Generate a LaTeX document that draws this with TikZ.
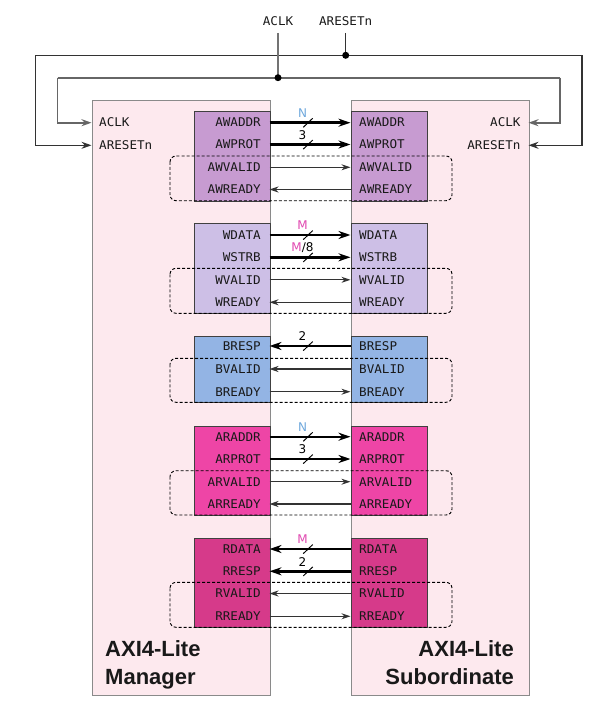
\documentclass[tikz,border=0pt]{standalone}
\usepackage{fontspec}
\setmainfont{Liberation Sans}
\newfontfamily\sigfont[FakeStretch=1.05]{DejaVu Sans Mono}
\newfontfamily\lblfont{DejaVu Sans}
\usetikzlibrary{arrows.meta,calc}
\definecolor{modfill}{HTML}{FDE9EE}
\definecolor{modline}{HTML}{8A8A8A}
\definecolor{awcol}{HTML}{C79BD1}
\definecolor{wcol}{HTML}{CDBFE6}
\definecolor{bcol}{HTML}{93B4E4}
\definecolor{arcol}{HTML}{EE45A6}
\definecolor{rcol}{HTML}{D63A8A}
\definecolor{nblue}{HTML}{6FA8DC}
\definecolor{mmag}{HTML}{E048B0}
\begin{document}
\begin{tikzpicture}[x=1pt,y=-1pt,
  module/.style={draw=modline,line width=1pt,fill=modfill,inner sep=0pt,anchor=north west},
  chan/.style={draw=black!75,line width=1pt,inner sep=0pt,anchor=north west,minimum width=76pt},
  sig/.style={font=\sigfont\fontsize{12}{14}\selectfont,text=black!90,inner sep=0pt},
  lbl/.style={font=\lblfont\fontsize{12}{14}\selectfont,inner sep=0pt},
  title/.style={font=\fontsize{22}{26}\selectfont\bfseries,text=black!90,inner sep=0pt},
  bus/.style={line width=2.4pt,black,>={Stealth[length=12pt,width=8pt]}},
  ctl/.style={line width=1.2pt,black!80,>={Stealth[length=9pt,width=6pt]}},
  fwd/.style={->},
  back/.style={<-},
  grp/.style={draw=black,line width=0.9pt,dash pattern=on 3pt off 2pt,rounded corners=6pt},
  slash/.style={line width=1pt,black},
  wclk/.style={draw=black!60,line width=1.8pt},
  wrst/.style={draw=black!80,line width=1.2pt},
  wtip/.style={-{Stealth[length=10pt,width=7pt]}}
]
\useasboundingbox (0,0) rectangle (602,714);

% modules
\node[module,minimum width=178pt,minimum height=594.5pt] (mgr) at (91.5,100) {};
\node[module,minimum width=178pt,minimum height=594.5pt] (sub) at (350.5,100) {};

% channel boxes
\foreach \g/\top/\h/\col in {aw/111/89.7/awcol, w/223.3/90/wcol, b/335.7/66.6/bcol, ar/425.7/89.3/arcol, r/537.7/89.6/rcol}{
  \node[chan,fill=\col,minimum height=\h pt] (\g m) at (193.5,\top) {};
  \node[chan,fill=\col,minimum height=\h pt] (\g s) at (350.5,\top) {};
}

% signals and arrows
\foreach \n/\y/\d/\t in {
  AWADDR/122.7/fwd/bus, AWPROT/144.5/fwd/bus, AWVALID/167.3/fwd/ctl, AWREADY/189.5/back/ctl,
  WDATA/235/fwd/bus, WSTRB/257.3/fwd/bus, WVALID/279.8/fwd/ctl, WREADY/302.3/back/ctl,
  BRESP/346/back/bus, BVALID/369/back/ctl, BREADY/391.7/fwd/ctl,
  ARADDR/436.7/fwd/bus, ARPROT/459/fwd/bus, ARVALID/481.7/fwd/ctl, ARREADY/504/back/ctl,
  RDATA/549/back/bus, RRESP/571.3/back/bus, RVALID/593.5/back/ctl, RREADY/616.3/fwd/ctl}{
  \node[sig,anchor=base east] (m\n) at (261,\y+4.3) {\n};
  \node[sig,anchor=base west] (s\n) at (359,\y+4.3) {\n};
  \coordinate (pm\n) at (269.5,\y);
  \coordinate (ps\n) at (350.5,\y);
  \draw[\t,\d] (pm\n) -- (ps\n);
}

% width marks
\foreach \n/\lab in {AWADDR/{\textcolor{nblue}{N}}, AWPROT/3, WDATA/{\textcolor{mmag}{M}}, WSTRB/{\textcolor{mmag}{M}/8},
  BRESP/2, ARADDR/{\textcolor{nblue}{N}}, ARPROT/3, RDATA/{\textcolor{mmag}{M}}, RRESP/2}{
  \draw[slash] ($(pm\n)+(33.8,4.6)$) -- ($(pm\n)+(43.2,-4.4)$);
  \node[lbl] (w\n) at ($(pm\n)+(33,-9.6)$) {\lab};
}

% handshake groups
\foreach \g/\top/\bot in {gaw/156/200.7, gw/268.3/313.3, gb/358.3/402.3, gar/470.7/515, gr/582.3/627.3}{
  \draw[grp] (170,\top) rectangle (452,\bot);
}

% module side labels
\node[sig,anchor=base west] (mclk) at (99,127) {ACLK};
\node[sig,anchor=base west] (mrst) at (99,149.6) {ARESETn};
\node[sig,anchor=base east] (sclk) at (520.7,127) {ACLK};
\node[sig,anchor=base east] (srst) at (520.7,149.6) {ARESETn};

% titles
\node[title,anchor=base west] (tm1) at (105,656.7) {AXI4-Lite};
\node[title,anchor=base west] (tm2) at (105,684) {Manager};
\node[title,anchor=base east] (ts1) at (514,656.7) {AXI4-Lite};
\node[title,anchor=base east] (ts2) at (514,684) {Subordinate};

% global signals
\node[sig,anchor=base] (gclk) at (278,26) {ACLK};
\node[sig,anchor=base] (grst) at (345.7,26) {ARESETn};
\coordinate (clkTop) at (278,33);
\coordinate (clkJ) at (278,77.7);
\coordinate (clkL) at (57.5,77.7);
\coordinate (clkR) at (560.3,77.7);
\coordinate (clkMin) at (91.5,122.7);
\coordinate (clkSin) at (528.5,122.7);
\coordinate (rstTop) at (345.7,33);
\coordinate (rstJ) at (345.7,55.3);
\coordinate (rstL) at (35.5,55.3);
\coordinate (rstR) at (582,55.3);
\coordinate (rstMin) at (91.5,145.3);
\coordinate (rstSin) at (528.5,145.3);

\draw[wrst] (rstL) -- (rstR);
\draw[wrst] (rstTop) -- (rstJ);
\draw[wrst,wtip] (rstL) |- (rstMin);
\draw[wrst,wtip] (rstR) |- (rstSin);
\draw[wclk] (clkL) -- (clkR);
\draw[draw=black!55,line width=1.5pt] (clkTop) -- (clkJ);
\draw[wclk,wtip] (clkL) |- (clkMin);
\draw[wclk,wtip] (clkR) |- (clkSin);
\fill[black] (clkJ) circle (3.5pt);
\fill[black] (rstJ) circle (3.5pt);
\end{tikzpicture}
\end{document}
